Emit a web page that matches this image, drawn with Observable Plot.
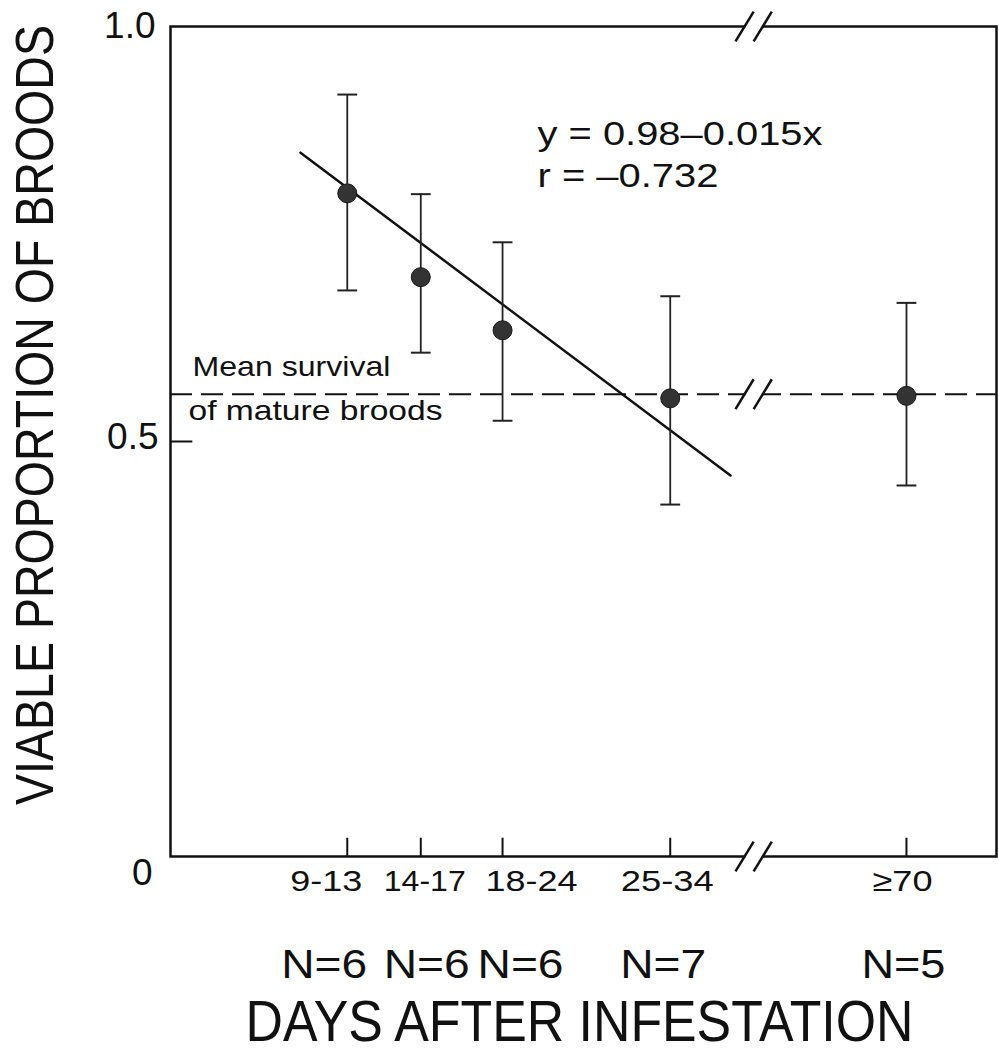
<!DOCTYPE html>
<html>
<head>
<meta charset="utf-8">
<script src="https://cdn.jsdelivr.net/npm/d3@7"></script>
<script src="https://cdn.jsdelivr.net/npm/@observablehq/plot@0.6"></script>
<style>
  html, body { margin: 0; padding: 0; background: #fff; }
  #chart svg { display: block; }
</style>
</head>
<body>
<div id="chart"></div>
<script>
// ---- data ----
const categories   = ["9-13", "14-17", "18-24", "25-34", "≥70"];
const dayPosition  = [11.7, 16.15, 21.1, 31.25, 45.55];   // x position on the (broken) day axis
const viable       = [0.799, 0.698, 0.634, 0.552, 0.555];
const upper        = [0.918, 0.798, 0.740, 0.675, 0.667];
const lower        = [0.682, 0.607, 0.525, 0.424, 0.447];
const sampleSizes  = ["N=6", "N=6", "N=6", "N=7", "N=5"];
const yTicks       = [0, 0.5, 1.0];
const yTickLabels  = ["0", "0.5", "1.0"];
const fitX         = [8.87, 34.9];
const fitY         = [0.848, 0.459];
const meanSurvival = 0.557;
const axisBreak    = 36.3;
const equationLines = ["y = 0.98–0.015x", "r = –0.732"];
const meanLabel    = ["Mean survival", "of mature broods"];
const xTitle = "DAYS AFTER INFESTATION";
const yTitle = "VIABLE PROPORTION OF BROODS";

// ---- build rows ----
const rows = categories.map((c, i) => ({
  cat: c, x: dayPosition[i], y: viable[i], lo: lower[i], hi: upper[i], n: sampleSizes[i]
}));
const fitRows = fitX.map((x, i) => ({x, y: fitY[i]}));
const breakLevels = [1, meanSurvival, 0];

const ink = "#111";
const font = "'Liberation Sans', Arial, Helvetica, sans-serif";
const capHalf = 0.6;

// layout nudges (pixels) for labels
const tickLabelDx = [-21, 4, 29, -3, -4];
const nLabelDx    = [-23, 6, 18, -7, -3];
const yLabelShift = [[-18, 28], [-12, 7], [-15, 11]];

const marks = [
  Plot.ruleY([meanSurvival], {x1: 1, x2: 51, stroke: ink, strokeWidth: 2, strokeDasharray: "22,9"}),
  Plot.frame({stroke: ink, strokeWidth: 2.5}),
  Plot.ruleX(rows, {x: "x", y1: 0, y2: 0.022, stroke: ink, strokeWidth: 2}),
  Plot.ruleY([0.5], {x1: 1, x2: 2.35, stroke: ink, strokeWidth: 2}),
  Plot.link(breakLevels, {x1: axisBreak - 0.5, x2: axisBreak + 0.5, y1: d => d, y2: d => d, stroke: "white", strokeWidth: 6}),
  ...[-0.55, 0.55].map(off => Plot.link(breakLevels, {
    x1: axisBreak + off - 0.55, x2: axisBreak + off + 0.55,
    y1: d => d - 0.018, y2: d => d + 0.018, stroke: ink, strokeWidth: 2.5
  })),
  Plot.line(fitRows, {x: "x", y: "y", stroke: ink, strokeWidth: 2.5}),
  Plot.ruleX(rows, {x: "x", y1: "lo", y2: "hi", stroke: "#222", strokeWidth: 1.8}),
  Plot.link(rows, {x1: d => d.x - capHalf, x2: d => d.x + capHalf, y1: "hi", y2: "hi", stroke: "#222", strokeWidth: 2}),
  Plot.link(rows, {x1: d => d.x - capHalf, x2: d => d.x + capHalf, y1: "lo", y2: "lo", stroke: "#222", strokeWidth: 2}),
  Plot.dot(rows, {x: "x", y: "y", r: 9.5, fill: "#333", stroke: "#1a1a1a", strokeWidth: 1}),
  ...yTicks.map((t, i) => Plot.text([yTickLabels[i]], {
    x: 1, y: t, text: d => d, dx: yLabelShift[i][0], dy: yLabelShift[i][1],
    textAnchor: "end", lineAnchor: "bottom", fontSize: 37, fill: ink
  })),
  ...rows.map((r, i) => Plot.text([r], {
    x: "x", y: 0, text: "cat", dx: tickLabelDx[i], dy: 34,
    lineAnchor: "bottom", fontSize: 30, fill: ink
  })),
  ...rows.map((r, i) => Plot.text([r], {
    x: "x", y: 0, text: "n", dx: nLabelDx[i], dy: 121,
    lineAnchor: "bottom", fontSize: 40, fill: ink
  })),
  ...equationLines.map((s, i) => Plot.text([s], {
    frameAnchor: "top-left", text: d => d, dx: 367, dy: [118, 160][i],
    textAnchor: "start", lineAnchor: "bottom", fontSize: 34, fill: ink
  })),
  ...meanLabel.map((s, i) => Plot.text([s], {
    frameAnchor: "top-left", text: d => d, dx: [22, 18][i], dy: [349, 393][i],
    textAnchor: "start", lineAnchor: "bottom", fontSize: 28, fill: ink
  })),
  Plot.text([xTitle], {frameAnchor: "bottom", text: d => d, dx: -4, dy: 184, lineAnchor: "bottom", fontSize: 58, fill: ink}),
  Plot.text([yTitle], {frameAnchor: "left", text: d => d, lineAnchor: "bottom", fontSize: 53, fill: ink})
];

const chart = Plot.plot({
  width: 999,
  height: 1056,
  marginLeft: 170,
  marginRight: 3,
  marginTop: 26,
  marginBottom: 200,
  x: {domain: [1, 51], axis: null},
  y: {domain: [0, 1], axis: null},
  style: {fontFamily: font, background: "white", color: ink},
  marks
});
document.getElementById("chart").appendChild(chart);

// exact text widths measured on the figure
const widths = {
  [xTitle]: 668,
  [equationLines[0]]: 285,
  [equationLines[1]]: 181,
  [meanLabel[0]]: 198,
  [meanLabel[1]]: 254,
  "9-13": 72, "14-17": 82, "18-24": 92, "25-34": 93, "≥70": 60,
  "N=6": 86, "N=7": 86, "N=5": 84
};
chart.querySelectorAll("text").forEach(t => {
  const w = widths[t.textContent];
  if (w) { t.setAttribute("textLength", w); t.setAttribute("lengthAdjust", "spacingAndGlyphs"); }
});

// rotated y-axis title: place along the left margin, condensed to the figure's length
const yt = [...chart.querySelectorAll("text")].find(t => t.textContent === yTitle);
if (yt) {
  const natural = yt.getComputedTextLength();
  const g = yt.parentNode;
  g.removeAttribute("transform");
  ["x", "y", "dx", "dy"].forEach(a => yt.removeAttribute(a));
  yt.setAttribute("text-anchor", "middle");
  yt.setAttribute("transform", `translate(53,415) rotate(-90) scale(${780 / natural},1)`);
}
</script>
</body>
</html>
